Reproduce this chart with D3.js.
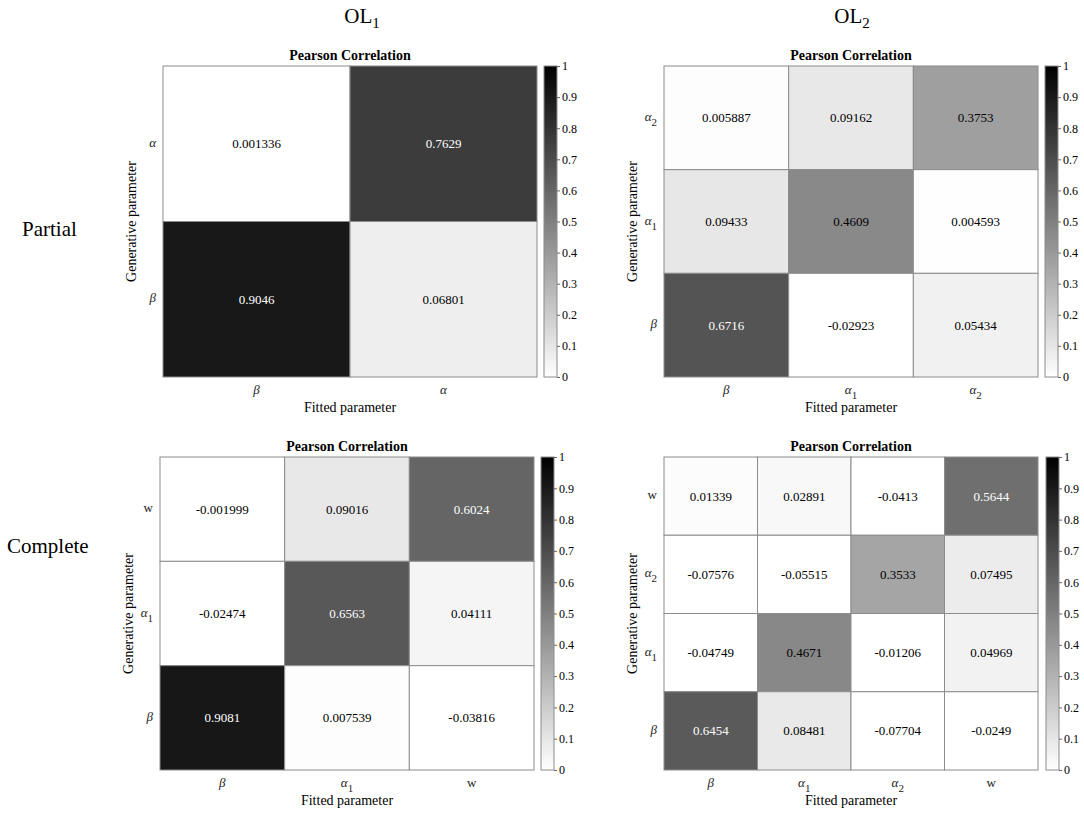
<!DOCTYPE html>
<html><head><meta charset="utf-8">
<script src="https://cdn.jsdelivr.net/npm/d3@7"></script>
<style>body{margin:0;background:#fff;} svg{display:block;font-family:"Liberation Serif","Times New Roman",serif;}</style>
</head><body>
<svg id="c" width="1084" height="818" font-family="Liberation Serif, Times New Roman, serif"></svg>
<script>
// ---- data ----
const colHeaders = [["OL","1"],["OL","2"]];
const rowHeaders = ["Partial","Complete"];
const colorbarTicks = [0,0.1,0.2,0.3,0.4,0.5,0.6,0.7,0.8,0.9,1];

const p1Rows = ["α","β"];
const p1Cols = ["β","α"];
const p1Values = [[0.001336,0.7629],[0.9046,0.06801]];

const p2Rows = ["α_2","α_1","β"];
const p2Cols = ["β","α_1","α_2"];
const p2Values = [[0.005887,0.09162,0.3753],[0.09433,0.4609,0.004593],[0.6716,-0.02923,0.05434]];

const p3Rows = ["w","α_1","β"];
const p3Cols = ["β","α_1","w"];
const p3Values = [[-0.001999,0.09016,0.6024],[-0.02474,0.6563,0.04111],[0.9081,0.007539,-0.03816]];

const p4Rows = ["w","α_2","α_1","β"];
const p4Cols = ["β","α_1","α_2","w"];
const p4Values = [[0.01339,0.02891,-0.0413,0.5644],[-0.07576,-0.05515,0.3533,0.07495],[-0.04749,0.4671,-0.01206,0.04969],[0.6454,0.08481,-0.07704,-0.0249]];

// ---- layout ----
const panels = [
  {rows:p1Rows, cols:p1Cols, vals:p1Values, x0:163, x1:537, y0:66, y1:377, cb:544},
  {rows:p2Rows, cols:p2Cols, vals:p2Values, x0:664, x1:1038, y0:66, y1:377, cb:1045},
  {rows:p3Rows, cols:p3Cols, vals:p3Values, x0:160, x1:534, y0:457, y1:770, cb:541},
  {rows:p4Rows, cols:p4Cols, vals:p4Values, x0:664, x1:1038, y0:457, y1:770, cb:1046}
];

const svg = d3.select("#c");
const color = d3.scaleLinear().domain([0,1]).range(["#ffffff","#000000"]).clamp(true);

const defs = svg.append("defs");
const grad = defs.append("linearGradient").attr("id","cbg").attr("x1",0).attr("y1",1).attr("x2",0).attr("y2",0);
grad.append("stop").attr("offset","0%").attr("stop-color","#ffffff");
grad.append("stop").attr("offset","100%").attr("stop-color","#000000");

function writeLabel(sel, label){
  const parts = label.split("_");
  const base = sel.append("tspan").text(parts[0]);
  if(/[αβ]/.test(parts[0])) base.attr("font-style","italic");
  if(parts.length>1){
    sel.append("tspan").attr("dy",5).attr("font-size","0.85em").text(parts[1]);
  }
}

// column headers
[[362,0],[852,1]].forEach(([cx,i])=>{
  const t = svg.append("text").attr("x",cx).attr("y",23).attr("text-anchor","middle").attr("font-size",21).attr("fill","#000");
  t.append("tspan").text(colHeaders[i][0]);
  t.append("tspan").attr("dy",5).attr("font-size",15).text(colHeaders[i][1]);
});
svg.append("text").attr("x",22).attr("y",236).attr("font-size",21).text(rowHeaders[0]);
svg.append("text").attr("x",7).attr("y",553).attr("font-size",21).text(rowHeaders[1]);

panels.forEach(p=>{
  const g = svg.append("g");
  const x = d3.scaleBand().domain(p.cols.map((c,i)=>i)).range([p.x0,p.x1]);
  const y = d3.scaleBand().domain(p.rows.map((r,i)=>i)).range([p.y0,p.y1]);
  const cells = [];
  p.vals.forEach((row,ri)=>row.forEach((v,ci)=>cells.push({ri,ci,v})));
  g.selectAll("rect.cell").data(cells).join("rect")
    .attr("x",d=>x(d.ci)).attr("y",d=>y(d.ri))
    .attr("width",x.bandwidth()).attr("height",y.bandwidth())
    .attr("fill",d=>color(d.v)).attr("stroke","#8c8c8c").attr("stroke-width",1);
  g.selectAll("text.val").data(cells).join("text")
    .attr("x",d=>x(d.ci)+x.bandwidth()/2).attr("y",d=>y(d.ri)+y.bandwidth()/2)
    .attr("dy","0.35em").attr("text-anchor","middle").attr("font-size",13)
    .attr("fill",d=>d.v>0.5?"#ffffff":"#000000")
    .text(d=>d.v);
  // title
  g.append("text").attr("x",(p.x0+p.x1)/2).attr("y",p.y0-6).attr("text-anchor","middle")
    .attr("font-size",14).attr("font-weight","bold").text("Pearson Correlation");
  // x tick labels
  p.cols.forEach((c,i)=>{
    const t = g.append("text").attr("x",x(i)+x.bandwidth()/2).attr("y",p.y1+17).attr("text-anchor","middle")
      .attr("font-size",13).attr("fill","#222");
    writeLabel(t,c);
  });
  g.append("text").attr("x",(p.x0+p.x1)/2).attr("y",p.y1+35).attr("text-anchor","middle")
    .attr("font-size",14).text("Fitted parameter");
  // y tick labels
  p.rows.forEach((r,i)=>{
    const t = g.append("text").attr("x",p.x0-7).attr("y",y(i)+y.bandwidth()/2+3).attr("text-anchor","end")
      .attr("font-size",13).attr("fill","#222");
    writeLabel(t,r);
  });
  const ly = (p.y0+p.y1)/2, lx = p.x0-27;
  g.append("text").attr("transform",`translate(${lx},${ly}) rotate(-90)`).attr("text-anchor","middle")
    .attr("font-size",14).text("Generative parameter");
  // colorbar
  const cbW = 13;
  g.append("rect").attr("x",p.cb).attr("y",p.y0).attr("width",cbW).attr("height",p.y1-p.y0)
    .attr("fill","url(#cbg)").attr("stroke","#8c8c8c").attr("stroke-width",1);
  const cs = d3.scaleLinear().domain([0,1]).range([p.y1,p.y0]);
  const ax = g.append("g").attr("transform",`translate(${p.cb+cbW},0)`)
    .call(d3.axisRight(cs).tickValues(colorbarTicks).tickSize(3).tickFormat(d3.format("")));
  ax.attr("font-family",null);
  ax.select(".domain").remove();
  ax.selectAll("line").attr("stroke","#666");
  ax.selectAll("text").attr("font-family","Liberation Serif, serif").attr("font-size",12).attr("fill","#000").attr("x",5);
});
</script>
</body></html>
